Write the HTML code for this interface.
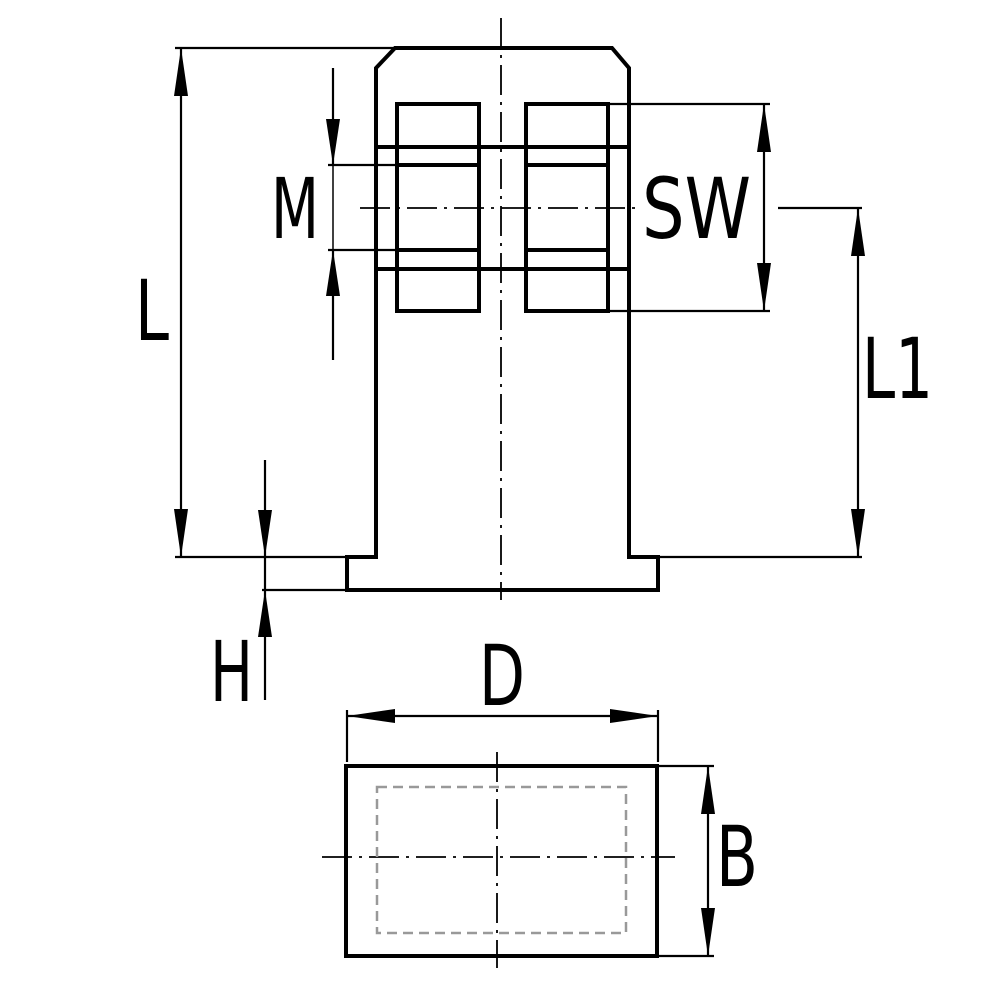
<!DOCTYPE html>
<html><head><meta charset="utf-8"><style>html,body{margin:0;padding:0;background:#fff}svg{display:block}</style></head>
<body>
<svg width="1000" height="1000" viewBox="0 0 1000 1000" xmlns="http://www.w3.org/2000/svg" font-family="'DejaVu Sans','Liberation Sans',sans-serif">
<rect width="1000" height="1000" fill="#fff"/>
<g stroke="#000" stroke-width="1.8" stroke-dasharray="30,7,3,7" fill="none">
<line x1="501" y1="18" x2="501" y2="600"/>
<line x1="360" y1="208" x2="642" y2="208"/>
<line x1="322" y1="857" x2="675" y2="857"/>
<line x1="497" y1="752" x2="497" y2="968"/>
</g>
<g stroke="#000" stroke-width="4" fill="none" stroke-linejoin="miter">
<path d="M376,557 V68 L395,48 H612 L629,68 V557 H658 V590 H347 V557 Z"/>
<rect x="397" y="104" width="82" height="207"/>
<rect x="526" y="104" width="82" height="207"/>
<line x1="376" y1="147" x2="629" y2="147"/>
<line x1="376" y1="269" x2="629" y2="269"/>
<line x1="397" y1="165" x2="479" y2="165"/>
<line x1="526" y1="165" x2="608" y2="165"/>
<line x1="397" y1="250" x2="479" y2="250"/>
<line x1="526" y1="250" x2="608" y2="250"/>
<rect x="346" y="766" width="311" height="190"/>
</g>
<rect x="377" y="787" width="249" height="146" fill="none" stroke="#999" stroke-width="2.5" stroke-dasharray="10,6"/>
<g stroke="#000" stroke-width="2.2" fill="none">
<line x1="175" y1="48" x2="395" y2="48"/>
<line x1="175" y1="557" x2="347" y2="557"/>
<line x1="181" y1="48" x2="181" y2="557"/>
<line x1="328" y1="165" x2="397" y2="165"/>
<line x1="328" y1="250" x2="397" y2="250"/>
<line x1="333" y1="68" x2="333" y2="165"/>
<line x1="333" y1="250" x2="333" y2="360"/>
<line x1="333" y1="165" x2="333" y2="250" stroke-width="1.5"/>
<line x1="608" y1="104" x2="770" y2="104"/>
<line x1="608" y1="311" x2="770" y2="311"/>
<line x1="764" y1="104" x2="764" y2="311"/>
<line x1="778" y1="208" x2="862" y2="208"/>
<line x1="660" y1="557" x2="862" y2="557"/>
<line x1="858" y1="208" x2="858" y2="557"/>
<line x1="265" y1="460" x2="265" y2="700"/>
<line x1="262" y1="590" x2="347" y2="590"/>
<line x1="347" y1="710" x2="347" y2="762"/>
<line x1="658" y1="710" x2="658" y2="762"/>
<line x1="347" y1="716" x2="658" y2="716"/>
<line x1="657" y1="766" x2="714" y2="766"/>
<line x1="657" y1="956" x2="714" y2="956"/>
<line x1="708" y1="766" x2="708" y2="956"/>
</g>
<g fill="#000">
<polygon points="181,48 174,96 188,96"/>
<polygon points="181,557 174,509 188,509"/>
<polygon points="333,165 326,119 340,119"/>
<polygon points="333,250 326,296 340,296"/>
<polygon points="764,104 757,152 771,152"/>
<polygon points="764,311 757,263 771,263"/>
<polygon points="858,208 851,256 865,256"/>
<polygon points="858,557 851,509 865,509"/>
<polygon points="265,557 258,510 272,510"/>
<polygon points="265,590 258,637 272,637"/>
<polygon points="347,716 395,709 395,723"/>
<polygon points="658,716 610,709 610,723"/>
<polygon points="708,766 701,814 715,814"/>
<polygon points="708,956 701,908 715,908"/>
</g>
<g fill="#000" font-size="84">
<text x="135" y="340" textLength="34" lengthAdjust="spacingAndGlyphs">L</text>
<text x="271" y="238" textLength="48" lengthAdjust="spacingAndGlyphs">M</text>
<text x="642" y="238" textLength="109" lengthAdjust="spacingAndGlyphs">SW</text>
<text x="862" y="398" textLength="71" lengthAdjust="spacingAndGlyphs">L1</text>
<text x="210" y="701" textLength="43" lengthAdjust="spacingAndGlyphs">H</text>
<text x="479" y="705" textLength="46" lengthAdjust="spacingAndGlyphs">D</text>
<text x="716" y="886" textLength="42" lengthAdjust="spacingAndGlyphs">B</text>
</g>
</svg>
</body></html>
